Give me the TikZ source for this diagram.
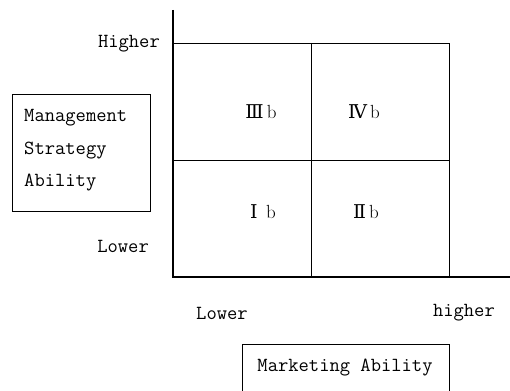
\documentclass[tikz,border=0pt]{standalone}
\usepackage{fontspec}
\newfontfamily\numfont{DejaVu Serif}
\begin{document}
\begin{tikzpicture}[x=1pt,y=-1pt,
  lbl/.style={font=\ttfamily\fontsize{20}{24}\selectfont, inner sep=0pt},
  quad/.style={font=\fontsize{19}{22}\selectfont, inner sep=0pt},
  thin/.style={line width=0.9pt},
  axis/.style={line width=2.6pt}]
\useasboundingbox (0,0) rectangle (510,390);
% coordinates
\coordinate (top) at (173,10);
\coordinate (o) at (173,277);
\coordinate (xend) at (510,277);
\coordinate (tl) at (173,43);
\coordinate (tr) at (449,43);
\coordinate (br) at (449,277);
\coordinate (mt) at (311,43);
\coordinate (mb) at (311,277);
\coordinate (ml) at (173,160);
\coordinate (mr) at (449,160);
% grid
\draw[thin] (tl) -- (tr) -- (br);
\draw[thin] (mt) -- (mb);
\draw[thin] (ml) -- (mr);
% axes
\draw[axis] (top) -- (o) -- (xend);
% left box
\node[draw, thin, minimum width=138pt, minimum height=117pt, anchor=north west, inner sep=0pt] (lbox) at (12,94) {};
\node[lbl, anchor=west] (m1) at (24,118) {Management};
\node[lbl, anchor=west] (m2) at (24,151) {Strategy};
\node[lbl, anchor=west] (m3) at (24,183) {Ability};
% axis labels
\node[lbl, anchor=east] (hi) at (160,44) {Higher};
\node[lbl, anchor=east] (lo) at (149,246) {Lower};
\node[lbl, anchor=west] (xlo) at (196,313) {Lower};
\node[lbl, anchor=east] (xhi) at (495,313) {higher};
% quadrant labels
\node[quad] (q3) at (261,112) {{\numfont Ⅲ}\,b};
\node[quad] (q4) at (364,112) {{\numfont Ⅳ}\,b};
\node[quad] (q1) at (263,212) {{\numfont Ⅰ}\;\,b};
\node[quad] (q2) at (366,212) {{\numfont Ⅱ}\,b};
% bottom box
\coordinate (bbl) at (242,400);
\coordinate (btl) at (242,344);
\coordinate (btr) at (449,344);
\coordinate (bbr) at (449,400);
\draw[thin] (bbl) -- (btl) -- (btr) -- (bbr);
\node[lbl] (mk) at (345,368) {Marketing Ability};
\end{tikzpicture}
\end{document}
